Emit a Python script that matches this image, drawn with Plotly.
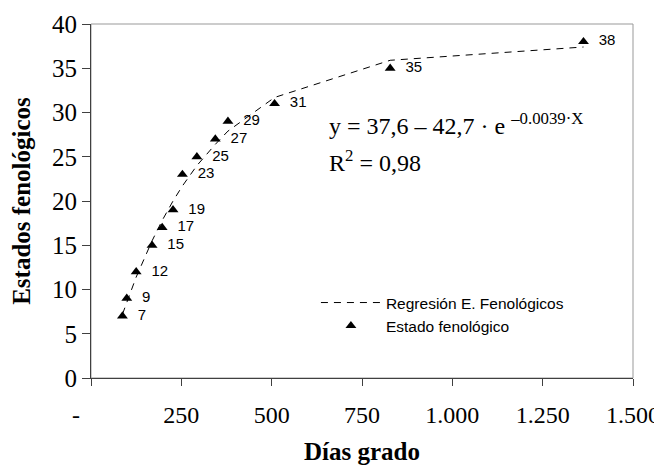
import plotly.graph_objects as go

# Data
dias_grado = [87, 99, 125, 169, 197, 227, 253, 293, 344, 379, 508, 828, 1363]
estado_fenologico = [7, 9, 12, 15, 17, 19, 23, 25, 27, 29, 31, 35, 38]
regresion = [7.2, 8.6, 11.4, 15.5, 17.8, 20.0, 21.7, 24.0, 26.4, 27.9, 31.7, 35.9, 37.4]

x_tickvals = [0, 250, 500, 750, 1000, 1250, 1500]
x_ticktext = ["-\u00a0\u00a0\u00a0\u00a0\u00a0", "250", "500", "750", "1.000", "1.250", "1.500"]
y_tickvals = [0, 5, 10, 15, 20, 25, 30, 35, 40]

serif = "Liberation Serif, Times New Roman, serif"
sans = "Liberation Sans, Arial, sans-serif"

fig = go.Figure()
fig.add_trace(go.Scatter(
    x=dias_grado, y=regresion, mode="lines",
    name="Regresión E. Fenológicos",
    line=dict(color="black", width=1, dash="7px,6px"),
))
fig.add_trace(go.Scatter(
    x=dias_grado, y=estado_fenologico, mode="markers+text",
    name="Estado fenológico",
    marker=dict(symbol="triangle-up", size=9.5, color="black"),
    text=["\u00a0\u00a0" + str(v) for v in estado_fenologico],
    textposition="middle right",
    textfont=dict(family=sans, size=15, color="black"),
))

fig.add_shape(type="rect", xref="paper", yref="paper", x0=0, x1=1, y0=0, y1=1,
              line=dict(color="#999999", width=1), layer="below")

fig.add_annotation(xref="paper", yref="paper", x=0.4356, y=0.718,
                   xanchor="left", yanchor="middle", showarrow=False,
                   text="y = 37,6 – 42,7 · e <sup>–0.0039·X</sup>",
                   font=dict(family=serif, size=24, color="black"))
fig.add_annotation(xref="paper", yref="paper", x=0.4356, y=0.614,
                   xanchor="left", yanchor="middle", showarrow=False,
                   text="R<sup>2</sup> = 0,98",
                   font=dict(family=serif, size=24, color="black"))

fig.update_layout(
    width=654, height=464,
    margin=dict(l=83, r=29, t=16, b=94, autoexpand=False),
    paper_bgcolor="white", plot_bgcolor="white",
    showlegend=True,
    legend=dict(x=0.415, y=0.26, xanchor="left", yanchor="top",
                bgcolor="rgba(0,0,0,0)", font=dict(family=sans, size=15.5, color="black"),
                itemwidth=60),
    xaxis=dict(range=[0, 1500], tickvals=x_tickvals, ticktext=x_ticktext,
               automargin=False,
               showline=True, linecolor="#404040", linewidth=1,
               ticks="outside", ticklen=7, tickcolor="#404040",
               showgrid=False, zeroline=False,
               tickfont=dict(family=serif, size=24, color="black"),
               ticklabelstandoff=8,
               title=dict(text="<b>Días grado</b>", standoff=15,
                          font=dict(family=serif, size=25, color="black"))),
    yaxis=dict(range=[0, 40], tickvals=y_tickvals,
               automargin=False,
               showline=True, linecolor="#404040", linewidth=1,
               ticks="outside", ticklen=8, tickcolor="#404040",
               showgrid=False, zeroline=False,
               tickfont=dict(family=serif, size=25, color="black"),
               ticklabelstandoff=0,
               title=dict(text="<b>Estados fenológicos</b>", standoff=14,
                          font=dict(family=serif, size=25, color="black"))),
)

fig.write_html("out.html")
